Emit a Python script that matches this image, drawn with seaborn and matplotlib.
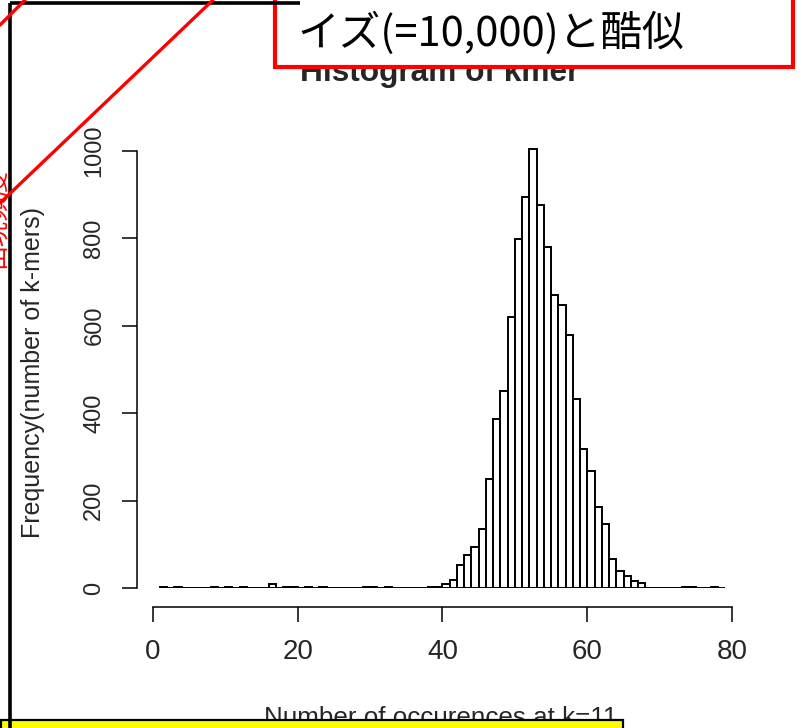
import numpy as np
import pandas as pd
import matplotlib
matplotlib.use("Agg")
import matplotlib.pyplot as plt
from matplotlib.patches import Rectangle
import seaborn as sns

# k-mer occurrence histogram (k=11): left edge of each non-empty bin and its count
bin_left = [1, 3, 8, 10, 12, 16, 18, 19, 21, 23, 29, 30, 32, 38, 39,
            40, 41, 42, 43, 44, 45, 46, 47, 48, 49,
            50, 51, 52, 53, 54, 55, 56, 57, 58, 59,
            60, 61, 62, 63, 64, 65, 66, 67, 73, 74, 77]
counts = [2, 2, 2, 2, 2, 9, 2, 2, 2, 2, 2, 2, 2, 2, 3,
          10, 20, 53, 76, 95, 135, 250, 387, 452, 620,
          798, 895, 1004, 876, 781, 670, 647, 579, 433, 318,
          268, 185, 148, 67, 40, 27, 16, 11, 2, 2, 2]
bin_range = (1, 79)
x_ticks = [0, 20, 40, 60, 80]
y_ticks = [0, 200, 400, 600, 800, 1000]

title = "Histogram of kmer"
x_label = "Number of occurences at k=11"
y_label = "Frequency(number of k-mers)"
note = "イズ(=10,000)と酷似"
side_note = "出現頻度"

sns.set_style("ticks")
plt.rcParams["font.family"] = ["Liberation Sans", "DejaVu Sans"]
jp = ["Noto Sans CJK JP", "DejaVu Sans"]

W, H = 802, 728
fig = plt.figure(figsize=(W / 100, H / 100), dpi=100)
fig.patch.set_facecolor("white")

ymax = 1050
ax = fig.add_axes([152.7 / W, (H - 588.3) / H, 579.6 / W, ymax * 0.4376 / H])
ax.patch.set_alpha(0)

df = pd.DataFrame({"occ": np.asarray(bin_left, dtype=float) + 0.5,
                   "n": np.asarray(counts, dtype=float)})
sns.histplot(data=df, x="occ", weights="n", binwidth=1, binrange=bin_range,
             stat="count", color="white", edgecolor="black", linewidth=1.4,
             alpha=1, ax=ax)

ax.set_xlim(0, 80)
ax.set_ylim(0, ymax)
for s in ["top", "right"]:
    ax.spines[s].set_visible(False)
ax.spines["left"].set_position(("outward", 11.3))
ax.spines["bottom"].set_position(("outward", 13.2))
ax.spines["left"].set_bounds(0, 1000)
ax.spines["bottom"].set_bounds(0, 80)
for s in ["left", "bottom"]:
    ax.spines[s].set_linewidth(1.1)
    ax.spines[s].set_color("black")

ax.set_xticks(x_ticks)
ax.set_yticks(y_ticks)
ax.tick_params(axis="both", direction="out", length=10.8, width=1.1,
               color="black")
ax.tick_params(axis="x", pad=12.5)
ax.tick_params(axis="y", pad=12)
ax.set_xticklabels([str(v) for v in x_ticks], fontsize=20)
ax.set_yticklabels([str(v) for v in y_ticks], fontsize=17,
                   rotation=90, va="center", ha="right")
ax.set_xlabel("")
ax.set_ylabel("")

# axis titles and main title in figure pixels
fig.text(441 / W, 1 - 725 / H, x_label, fontsize=18.7,
         ha="center", va="baseline")
fig.text(33 / W, 1 - 372 / H, y_label, fontsize=18, rotation=90,
         ha="center", va="center")
fig.text(440 / W, 1 - 81 / H, title, fontsize=22.8,
         fontweight="bold", ha="center", va="baseline")

# slide annotations drawn on top
ov = fig.add_axes([0, 0, 1, 1], zorder=10)
ov.set_xlim(0, W)
ov.set_ylim(H, 0)
ov.axis("off")
ov.patch.set_alpha(0)

ov.text(-4, 218, side_note, fontsize=18, color="red", rotation=90,
        family=jp, ha="center", va="center")
ov.plot([9.5, 9.5], [3, H + 5], color="black", lw=2.6, solid_capstyle="butt")
ov.plot([9.5, 300], [3, 3], color="black", lw=2.6, solid_capstyle="butt")
ov.plot([0, 25], [25, 0], color="red", lw=2.4)
ov.plot([213, 0], [0, 203], color="red", lw=2.4)

ov.add_patch(Rectangle((275, -20), 518, 87, facecolor="white",
                       edgecolor="red", lw=3.0))
ov.text(297, 33, note, fontsize=30, family=jp, color="black",
        ha="left", va="center")

ov.add_patch(Rectangle((1, 720), 622, 40, facecolor="#ffff00",
                       edgecolor="black", lw=1.6))

fig.savefig("out.png", dpi=100, facecolor="white")
